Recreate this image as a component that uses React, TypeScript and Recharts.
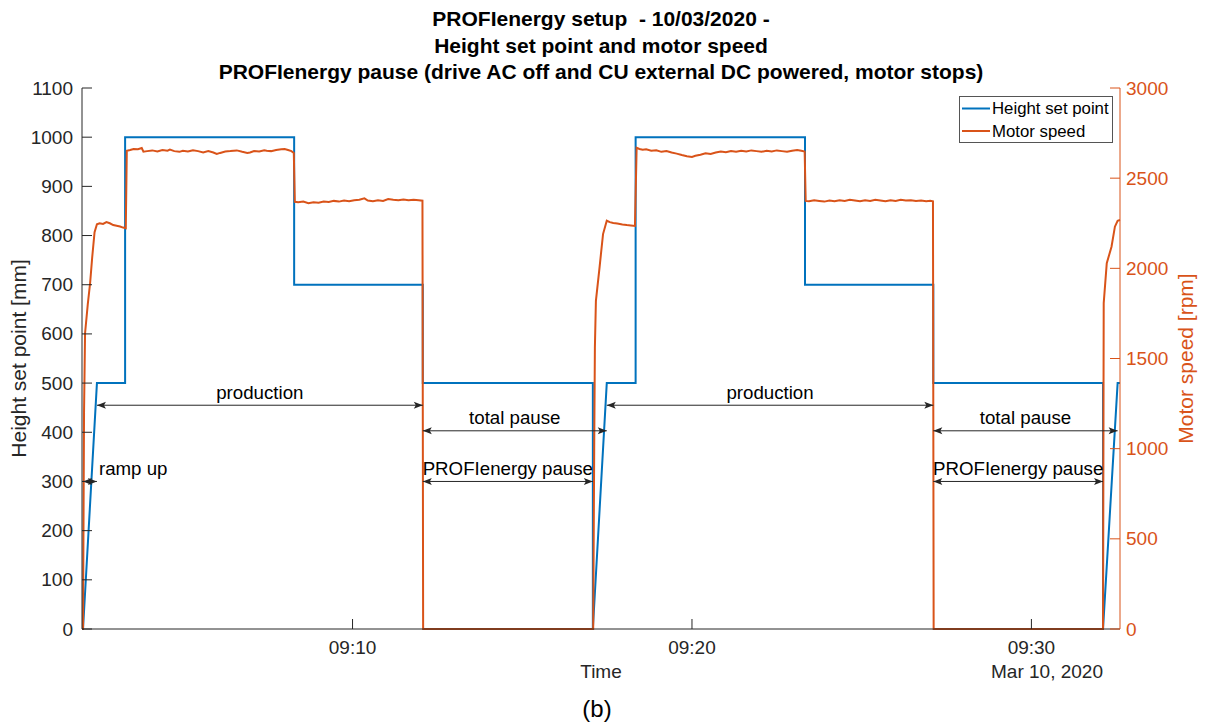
import React from "react";
import { LineChart, Line, XAxis, YAxis, ReferenceLine } from "recharts";

const BLUE = "#0072BD", ORANGE = "#D95319", AX = "#262626";
const FONT = "'Liberation Sans', Arial, Helvetica, sans-serif";

// time axis: minutes after 09:00 on 10 Mar 2020
const timeTicks = [10, 20, 30];
const timeLabels = ["09:10", "09:20", "09:30"];
const heightTicks = [0, 100, 200, 300, 400, 500, 600, 700, 800, 900, 1000, 1100];
const speedTicks = [0, 500, 1000, 1500, 2000, 2500, 3000];

// height set point [mm]
const heightT = [2.06, 2.47, 3.3, 3.3, 8.28, 8.28, 12.07, 12.07, 17.08, 17.08, 17.49, 18.34, 18.34, 23.33, 23.33, 27.11, 27.11, 32.11, 32.11, 32.54, 32.61];
const heightMm = [0, 500, 500, 1000, 1000, 700, 700, 500, 500, 0, 500, 500, 1000, 1000, 700, 700, 500, 500, 0, 500, 500];

// motor speed [rpm], [t, rpm]
const run1: [number, number][] = [
  [2.03, 0], [2.06, 0], [2.09, 1200], [2.12, 1640], [2.2, 1800], [2.27, 1920], [2.33, 2060], [2.4, 2200], [2.47, 2244],
  [2.55, 2250], [2.65, 2246], [2.75, 2256], [2.85, 2250], [2.95, 2240], [3.05, 2236], [3.15, 2232], [3.24, 2226], [3.32, 2222],
  [3.35, 2652], [3.45, 2656], [3.55, 2662], [3.68, 2660], [3.79, 2667], [3.84, 2647], [3.95, 2650], [4.1, 2654], [4.25, 2648],
  [4.4, 2656], [4.55, 2652], [4.62, 2658], [4.75, 2650], [4.9, 2646], [5.0, 2652], [5.15, 2648], [5.3, 2655], [5.45, 2650],
  [5.6, 2643], [5.75, 2650], [5.9, 2642], [6.0, 2634], [6.1, 2640], [6.25, 2648], [6.4, 2650], [6.59, 2654], [6.75, 2646],
  [6.9, 2640], [6.98, 2642], [7.1, 2650], [7.25, 2648], [7.4, 2655], [7.47, 2652], [7.6, 2650], [7.75, 2656], [7.9, 2660],
  [8.0, 2662], [8.1, 2656], [8.2, 2650], [8.27, 2640], [8.3, 2369], [8.4, 2366], [8.55, 2370], [8.7, 2361], [8.85, 2366],
  [9.0, 2364], [9.15, 2370], [9.3, 2368], [9.45, 2374], [9.6, 2370], [9.75, 2376], [9.9, 2372], [10.05, 2378], [10.2, 2380],
  [10.35, 2388], [10.45, 2376], [10.6, 2372], [10.75, 2378], [10.9, 2374], [11.05, 2384], [11.2, 2380], [11.35, 2377],
  [11.5, 2382], [11.65, 2378], [11.8, 2380], [11.95, 2377], [12.06, 2375], [12.08, 0],
];
const run2: [number, number][] = [
  [17.09, 0], [17.12, 1000], [17.14, 1560], [17.17, 1820], [17.28, 2010], [17.38, 2190], [17.49, 2264], [17.58, 2256],
  [17.68, 2251], [17.8, 2248], [17.95, 2243], [18.08, 2240], [18.2, 2238], [18.32, 2235], [18.37, 2669], [18.45, 2662],
  [18.55, 2658], [18.65, 2660], [18.8, 2652], [18.95, 2655], [19.1, 2646], [19.25, 2650], [19.4, 2642], [19.55, 2636],
  [19.7, 2628], [19.85, 2622], [20.0, 2618], [20.1, 2624], [20.25, 2630], [20.4, 2638], [20.55, 2634], [20.7, 2642],
  [20.85, 2648], [21.0, 2644], [21.15, 2650], [21.3, 2646], [21.45, 2652], [21.6, 2648], [21.75, 2654], [21.9, 2650],
  [22.05, 2646], [22.2, 2652], [22.35, 2648], [22.5, 2654], [22.65, 2650], [22.8, 2646], [22.95, 2652], [23.1, 2656],
  [23.22, 2652], [23.32, 2648], [23.35, 2374], [23.45, 2372], [23.6, 2378], [23.75, 2374], [23.9, 2370], [24.05, 2376],
  [24.2, 2372], [24.35, 2378], [24.5, 2374], [24.65, 2380], [24.8, 2376], [24.95, 2372], [25.1, 2378], [25.25, 2374],
  [25.4, 2380], [25.55, 2376], [25.7, 2372], [25.85, 2378], [26.0, 2374], [26.15, 2380], [26.3, 2376], [26.45, 2378],
  [26.6, 2374], [26.75, 2376], [26.9, 2372], [27.02, 2375], [27.1, 2372], [27.12, 0],
];
const run3: [number, number][] = [
  [32.11, 0], [32.13, 1807], [32.22, 2028], [32.36, 2120], [32.46, 2231], [32.54, 2264], [32.61, 2268],
];

// double arrows: from / to (min), level (mm), text
const arrowFrom = [2.06, 2.47, 12.07, 12.07, 17.49, 27.11, 27.11];
const arrowTo = [2.47, 12.07, 17.49, 17.08, 27.11, 32.54, 32.11];
const arrowAt = [300, 455, 403, 300, 455, 403, 300];
const arrowText = ["ramp up", "production", "total pause", "PROFIenergy pause", "production", "total pause", "PROFIenergy pause"];

const heightData = heightT.map((t, i) => ({ t, v: heightMm[i] }));
const speedData = [...run1, ...run2, ...run3].map(([t, v]) => ({ t, v }));

function LeftTick({ x, y, payload }: any) {
  const ax = x + 9;
  return (
    <g>
      <line x1={ax} x2={ax + 10} y1={y} y2={y} stroke={AX} />
      <text x={x} y={y} textAnchor="end" dominantBaseline="central" fill={AX} fontSize={19} fontFamily={FONT}>{payload.value}</text>
    </g>
  );
}
function RightTick({ x, y, payload }: any) {
  const ax = x - 6;
  return (
    <g>
      <line x1={ax} x2={ax - 10} y1={y} y2={y} stroke={ORANGE} />
      <text x={x} y={y} textAnchor="start" dominantBaseline="central" fill={ORANGE} fontSize={19} fontFamily={FONT}>{payload.value}</text>
    </g>
  );
}
function TimeTick({ x, y, payload }: any) {
  const ay = y - 18;
  return (
    <g>
      <line x1={x} x2={x} y1={ay} y2={ay - 10} stroke={AX} />
      <text x={x} y={y} textAnchor="middle" dominantBaseline="central" fill={AX} fontSize={19} fontFamily={FONT}>{timeLabels[timeTicks.indexOf(payload.value)]}</text>
    </g>
  );
}

function head(x: number, y: number, dir: number) {
  return `${x},${y} ${x + dir * 9},${y - 3.5} ${x + dir * 7},${y} ${x + dir * 9},${y + 3.5}`;
}
function arrowShape(label: string, side: boolean) {
  return (p: any) => {
    const { x1, y1, x2 } = p;
    return (
      <g>
        <line x1={x1} x2={x2} y1={y1} y2={y1} stroke={AX} strokeWidth={1} />
        <polygon points={head(x1, y1, 1)} fill={AX} />
        <polygon points={head(x2, y1, -1)} fill={AX} />
        <text x={side ? x2 + 2 : (x1 + x2) / 2} y={y1 - 13} textAnchor={side ? "start" : "middle"} dominantBaseline="central" fill="#000" fontSize={18.7} fontFamily={FONT}>{label}</text>
      </g>
    );
  };
}

export default function App() {
  return (
    <div style={{ position: "absolute", left: 0, top: 0, width: 1205, height: 727, background: "#fff", fontFamily: FONT }}>
      <LineChart width={1205} height={727} margin={{ top: 88, right: 25, bottom: 68, left: 22 }}>
        <XAxis dataKey="t" type="number" domain={[2.03, 32.61]} ticks={timeTicks} interval={0} tickSize={0} tickMargin={18} height={30}
          axisLine={{ stroke: AX }} tickLine={false} tick={<TimeTick />} />
        <YAxis yAxisId="h" type="number" domain={[0, 1100]} ticks={heightTicks} interval={0} width={60} tickSize={0} tickMargin={9}
          axisLine={{ stroke: AX }} tickLine={false} tick={<LeftTick />} />
        <YAxis yAxisId="s" orientation="right" type="number" domain={[0, 3000]} ticks={speedTicks} interval={0} width={60} tickSize={0} tickMargin={6}
          axisLine={{ stroke: ORANGE }} tickLine={false} tick={<RightTick />} />
        <Line yAxisId="h" data={heightData} dataKey="v" type="linear" stroke={BLUE} strokeWidth={2} dot={false} activeDot={false} isAnimationActive={false} />
        <Line yAxisId="s" data={speedData} dataKey="v" type="linear" stroke={ORANGE} strokeWidth={2} dot={false} activeDot={false} isAnimationActive={false} />
        {arrowText.map((s, i) => (
          <ReferenceLine key={i} yAxisId="h" segment={[{ x: arrowFrom[i], y: arrowAt[i] }, { x: arrowTo[i], y: arrowAt[i] }]}
            shape={arrowShape(s, i === 0)} />
        ))}
      </LineChart>
      <svg width={1205} height={727} style={{ position: "absolute", left: 0, top: 0, pointerEvents: "none" }} fontFamily={FONT}>
        <g fontSize={21} fontWeight="bold" fill="#000" textAnchor="middle">
          <text x={601} y={18} dominantBaseline="central" xmlSpace="preserve">PROFIenergy setup  - 10/03/2020 -</text>
          <text x={601} y={45} dominantBaseline="central">Height set point and motor speed</text>
          <text x={601} y={71.5} dominantBaseline="central">PROFIenergy pause (drive AC off and CU external DC powered, motor stops)</text>
        </g>
        <text x={18.5} y={358.5} transform="rotate(-90 18.5 358.5)" textAnchor="middle" dominantBaseline="central" fontSize={21} fill={AX}>Height set point [mm]</text>
        <text x={1185} y={358.5} transform="rotate(-90 1185 358.5)" textAnchor="middle" dominantBaseline="central" fontSize={21} fill={ORANGE}>Motor speed [rpm]</text>
        <text x={601} y={671.5} textAnchor="middle" dominantBaseline="central" fontSize={19} fill={AX}>Time</text>
        <text x={1103} y={671.5} textAnchor="end" dominantBaseline="central" fontSize={19} fill={AX}>Mar 10, 2020</text>
        <text x={597} y={708} textAnchor="middle" dominantBaseline="central" fontSize={24} fill="#000">(b)</text>
        <rect x={959.5} y={96.5} width={153} height={46} fill="#fff" stroke="#555" strokeWidth={1} />
        <line x1={962} x2={990} y1={108.5} y2={108.5} stroke={BLUE} strokeWidth={2} />
        <line x1={962} x2={990} y1={131} y2={131} stroke={ORANGE} strokeWidth={2} />
        <text x={992} y={108.5} dominantBaseline="central" fontSize={16.8} fill="#000">Height set point</text>
        <text x={992} y={131} dominantBaseline="central" fontSize={16.8} fill="#000">Motor speed</text>
      </svg>
    </div>
  );
}
